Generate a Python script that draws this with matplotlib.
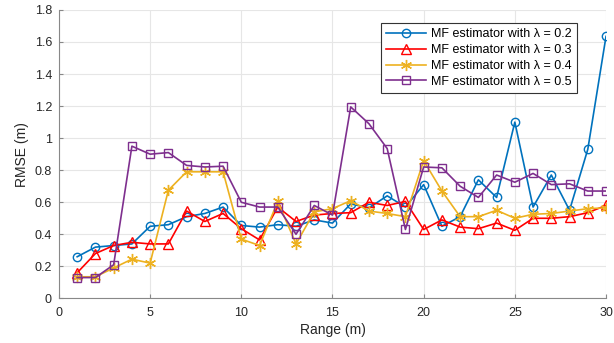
import numpy as np
import matplotlib
matplotlib.use('Agg')
import matplotlib.pyplot as plt

plt.rcParams['font.family'] = ['Liberation Sans', 'DejaVu Sans']

# Range (m)
rng = list(range(1, 31))

# RMSE values
rmse_02 = [0.26, 0.32, 0.33, 0.34, 0.45, 0.46, 0.51, 0.53, 0.57, 0.455,
           0.445, 0.46, 0.45, 0.49, 0.47, 0.59, 0.565, 0.64, 0.57, 0.71,
           0.45, 0.51, 0.74, 0.63, 1.10, 0.57, 0.77, 0.55, 0.93, 1.635]
rmse_03 = [0.16, 0.28, 0.33, 0.35, 0.34, 0.34, 0.545, 0.48, 0.53, 0.435,
           0.365, 0.57, 0.48, 0.52, 0.53, 0.535, 0.60, 0.58, 0.605, 0.43,
           0.49, 0.445, 0.435, 0.47, 0.425, 0.50, 0.50, 0.51, 0.535, 0.58]
rmse_04 = [0.135, 0.135, 0.19, 0.245, 0.22, 0.675, 0.79, 0.79, 0.79, 0.37,
           0.33, 0.605, 0.34, 0.54, 0.56, 0.61, 0.545, 0.53, 0.51, 0.86,
           0.67, 0.51, 0.51, 0.55, 0.50, 0.525, 0.53, 0.545, 0.56, 0.565]
rmse_05 = [0.13, 0.13, 0.21, 0.95, 0.90, 0.91, 0.83, 0.82, 0.825, 0.60,
           0.57, 0.57, 0.40, 0.58, 0.52, 1.195, 1.09, 0.935, 0.43, 0.82,
           0.815, 0.70, 0.63, 0.77, 0.725, 0.78, 0.71, 0.715, 0.67, 0.67]

labels = ['MF estimator with \u03bb = 0.2', 'MF estimator with \u03bb = 0.3',
          'MF estimator with \u03bb = 0.4', 'MF estimator with \u03bb = 0.5']

fig = plt.figure(figsize=(6.14, 3.43), dpi=100)
ax = fig.add_axes([0.096, 0.13, 0.891, 0.841])

# matlab-like line styles
ax.plot(rng, rmse_02, color='#0072BD', marker='o', ms=6, mfc='none', mew=1.0, lw=1.2, label=labels[0])
ax.plot(rng, rmse_03, color='#FF0000', marker='^', ms=6.5, mfc='none', mew=1.0, lw=1.2, label=labels[1])
ax.plot(rng, rmse_04, color='#EDB120', marker=(6, 2, 0), ms=8, mew=1.0, lw=1.2, label=labels[2])
ax.plot(rng, rmse_05, color='#7E2F8E', marker='s', ms=5.5, mfc='none', mew=1.0, lw=1.2, label=labels[3])

ax.set_xlim(0, 30)
ax.set_ylim(0, 1.8)
ax.set_xticks([0, 5, 10, 15, 20, 25, 30])
ax.set_yticks(np.arange(0, 1.81, 0.2))
ax.set_yticklabels(['0', '0.2', '0.4', '0.6', '0.8', '1', '1.2', '1.4', '1.6', '1.8'])
ax.set_xlabel('Range (m)', fontsize=10, color='#262626', labelpad=3)
ax.set_ylabel('RMSE (m)', fontsize=10, color='#262626', labelpad=4)

ax.grid(True, color='#e6e6e6', lw=0.8)
ax.set_axisbelow(True)
for s in ['top', 'right']:
    ax.spines[s].set_visible(False)
for s in ['left', 'bottom']:
    ax.spines[s].set_color('#888888')
ax.tick_params(direction='in', length=3, colors='#888888', labelcolor='#262626', labelsize=9)
ax.tick_params(axis='x', pad=6)
ax.tick_params(axis='y', pad=5)

leg = ax.legend(loc='upper right', bbox_to_anchor=(0.958, 0.975), fontsize=9,
                fancybox=False, framealpha=1, edgecolor='#333333',
                handlelength=3.2, borderpad=0.4, labelspacing=0.3, handletextpad=0.4)
leg.get_frame().set_linewidth(0.8)

fig.savefig('out.png', dpi=100)
